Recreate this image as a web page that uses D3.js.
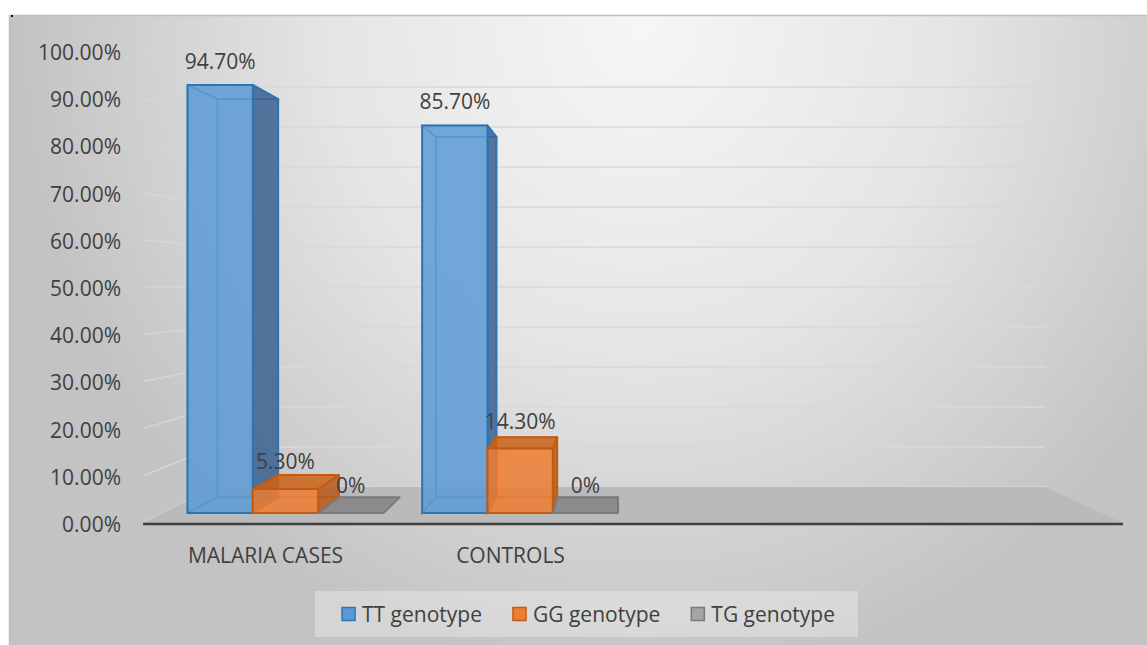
<!DOCTYPE html>
<html>
<head>
<meta charset="utf-8">
<script src="https://cdn.jsdelivr.net/npm/d3@7"></script>
<style>
  body { margin: 0; background: #fff; }
  text { font-family: "Open Sans", sans-serif; fill: #404040; font-size: 21px; }
</style>
</head>
<body>
<svg id="chart" width="1147" height="645"></svg>
<script>
// values
var categories = ["MALARIA CASES", "CONTROLS"];
var seriesNames = ["TT genotype", "GG genotype", "TG genotype"];
var ttValues = [0.947, 0.857];
var ggValues = [0.053, 0.143];
var tgValues = [0, 0];
var yTicks = [0, 0.1, 0.2, 0.3, 0.4, 0.5, 0.6, 0.7, 0.8, 0.9, 1.0];

var seriesValues = [ttValues, ggValues, tgValues];

// face colours per series: front, side, top, outline
var palette = [
  { front: "#5b9bd5", side: "#386090", top: "#3f77ad", stroke: "#2e75b6", key: "#5b9bd5" },
  { front: "#ed7d31", side: "#b8571a", top: "#cc6216", stroke: "#c55a11", key: "#ed7d31" },
  { front: "#a5a5a5", side: "#6f6f6f", top: "#828282", stroke: "#7a7a7a", key: "#a5a5a5" }
];

var svg = d3.select("#chart");

// perspective: vanishing point and depth factor, floor depth 0..1
var vx = 615, vy = 287, k = 0.18;
function proj(x, yy, z) {
  var s = 1 / (1 + k * z);
  return [vx + (x - vx) * s, vy + (yy - vy) * s];
}

var slotCount = 4; // the sheet has two empty category slots on the right
var x0 = d3.scaleBand().domain(d3.range(slotCount)).range([143, 1123]);
var bw = x0.bandwidth();
var x1 = d3.scaleBand().domain(seriesNames).range([0.105 * bw, 0.94 * bw]);
var y = d3.scaleLinear().domain([0, 1]).range([523, 51]);
var fmt = d3.format(".2%");
var labelFmt = function(v) { return v === 0 ? "0%" : fmt(v); };

var poly = d3.line().curve(d3.curveLinearClosed);

// background
var defs = svg.append("defs");
var grad = defs.append("radialGradient")
  .attr("id", "bg")
  .attr("gradientUnits", "userSpaceOnUse")
  .attr("cx", 640).attr("cy", 30).attr("r", 620)
  .attr("gradientTransform", "translate(640,30) scale(1,1.05) translate(-640,-30)");
grad.append("stop").attr("offset", 0).attr("stop-color", "#f6f6f6");
grad.append("stop").attr("offset", 0.5).attr("stop-color", "#e5e5e5");
grad.append("stop").attr("offset", 1).attr("stop-color", "#c3c3c3");

svg.append("rect")
  .attr("x", 9.5).attr("y", 15.5).attr("width", 1145).attr("height", 640)
  .attr("fill", "url(#bg)")
  .attr("stroke", "#c0c0c0").attr("stroke-width", 1.5);
svg.append("rect").attr("x", 11).attr("y", 15).attr("width", 2).attr("height", 2).attr("fill", "#111");

var xLeft = x0.range()[0], xRight = x0.range()[1];

// back wall gridlines and left wall lines
var grid = svg.append("g");
yTicks.forEach(function(t) {
  var f = [xLeft, y(t)];
  var bl = proj(xLeft, y(t), 1);
  var br = proj(xRight, y(t), 1);
  grid.append("line")
    .attr("x1", f[0]).attr("y1", f[1]).attr("x2", bl[0]).attr("y2", bl[1])
    .attr("stroke", "#d6d6d6").attr("stroke-width", 1.5);
  grid.append("line")
    .attr("x1", bl[0]).attr("y1", bl[1]).attr("x2", br[0]).attr("y2", br[1])
    .attr("stroke", "#d9d9d9").attr("stroke-width", 1.5);
});

// floor
svg.append("path")
  .attr("d", poly([proj(xLeft, y(0), 0), proj(xRight, y(0), 0), proj(xRight, y(0), 1), proj(xLeft, y(0), 1)]))
  .attr("fill", "#bababa");

svg.append("line")
  .attr("x1", xLeft).attr("y1", y(0) + 1).attr("x2", xRight).attr("y2", y(0) + 1)
  .attr("stroke", "#3f3f3f").attr("stroke-width", 2.5);

// y tick labels
svg.append("g").selectAll("text")
  .data(yTicks)
  .enter().append("text")
  .attr("x", 121)
  .attr("y", function(d) { return y(d) + 9; })
  .attr("text-anchor", "end")
  .text(fmt);

// category labels
svg.append("g").selectAll("text")
  .data(categories)
  .enter().append("text")
  .attr("x", function(d, i) { return x0(i) + bw / 2; })
  .attr("y", 563)
  .attr("text-anchor", "middle")
  .text(function(d) { return d; });

// bars
var z0 = 0.244, z1 = 0.68;
var bars = [];
categories.forEach(function(c, i) {
  seriesNames.forEach(function(s, j) {
    var xa = x0(i) + x1(s);
    bars.push({ cat: i, ser: j, value: seriesValues[j][i], xa: xa, xb: xa + x1.bandwidth() });
  });
});
// paint the bars far from the vanishing point first
bars.sort(function(a, b) {
  return Math.abs((b.xa + b.xb) / 2 - vx) - Math.abs((a.xa + a.xb) / 2 - vx);
});

var barLayer = svg.append("g");
bars.forEach(function(b) {
  var y0 = y(0), y1 = y(b.value);
  var c = palette[b.ser];
  var faces = {
    front: [[b.xa, y1, z0], [b.xb, y1, z0], [b.xb, y0, z0], [b.xa, y0, z0]],
    back: [[b.xa, y1, z1], [b.xb, y1, z1], [b.xb, y0, z1], [b.xa, y0, z1]],
    left: [[b.xa, y1, z0], [b.xa, y1, z1], [b.xa, y0, z1], [b.xa, y0, z0]],
    right: [[b.xb, y1, z0], [b.xb, y1, z1], [b.xb, y0, z1], [b.xb, y0, z0]],
    top: [[b.xa, y1, z0], [b.xb, y1, z0], [b.xb, y1, z1], [b.xa, y1, z1]],
    bottom: [[b.xa, y0, z0], [b.xb, y0, z0], [b.xb, y0, z1], [b.xa, y0, z1]]
  };
  var pts = function(f) { return f.map(function(p) { return proj(p[0], p[1], p[2]); }); };
  var topVisible = y1 > vy;
  var hidden = ["back", "bottom"];
  var shown = [];
  if (b.xb < vx) { hidden.push("left"); shown.push("right"); } else { hidden.push("right"); shown.push("left"); }
  if (topVisible) shown.push("top"); else hidden.push("top");
  shown.push("front");

  var g = barLayer.append("g");
  if (b.value > 0) {
    hidden.forEach(function(name) {
      g.append("path").attr("d", poly(pts(faces[name])))
        .attr("fill", "none").attr("stroke", c.stroke).attr("stroke-width", 1.5)
        .attr("stroke-opacity", 0.7);
    });
  }
  shown.forEach(function(name) {
    var fill = name === "front" ? c.front : (name === "top" ? c.top : c.side);
    if (b.value === 0 && name !== "top") return;
    g.append("path").attr("d", poly(pts(faces[name])))
      .attr("fill", fill).attr("fill-opacity", 0.85)
      .attr("stroke", c.stroke).attr("stroke-width", 2)
      .attr("stroke-linejoin", "round");
  });
});

// data labels
svg.append("g").selectAll("text")
  .data(bars)
  .enter().append("text")
  .attr("x", function(d) { return proj((d.xa + d.xb) / 2, y(d.value), z0)[0]; })
  .attr("y", function(d) { return proj(d.xa, y(d.value), z0)[1] - (16 + 4 * (1 - d.value)); })
  .attr("text-anchor", "middle")
  .text(function(d) { return labelFmt(d.value); });

// legend
var legend = svg.append("g");
legend.append("rect")
  .attr("x", 315).attr("y", 591).attr("width", 543).attr("height", 46)
  .attr("fill", "#ffffff").attr("fill-opacity", 0.3);
var items = legend.selectAll("g.item")
  .data(seriesNames)
  .enter().append("g").attr("class", "item");
items.append("rect")
  .attr("width", 13).attr("height", 13).attr("y", 607.5)
  .attr("fill", function(d, i) { return palette[i].key; })
  .attr("stroke", function(d, i) { return palette[i].stroke; })
  .attr("stroke-width", 1.5);
items.append("text")
  .attr("x", 20).attr("y", 621.5)
  .text(function(d) { return d; });
var widths = [];
items.each(function() {
  widths.push(20 + d3.select(this).select("text").node().getComputedTextLength());
});
var gap = 31;
var total = d3.sum(widths) + gap * (widths.length - 1);
var cx = 315 + 543 / 2 + 2;
var start = cx - total / 2;
items.attr("transform", function(d, i) {
  var off = start + d3.sum(widths.slice(0, i)) + gap * i;
  return "translate(" + off + ",0)";
});
</script>
</body>
</html>
